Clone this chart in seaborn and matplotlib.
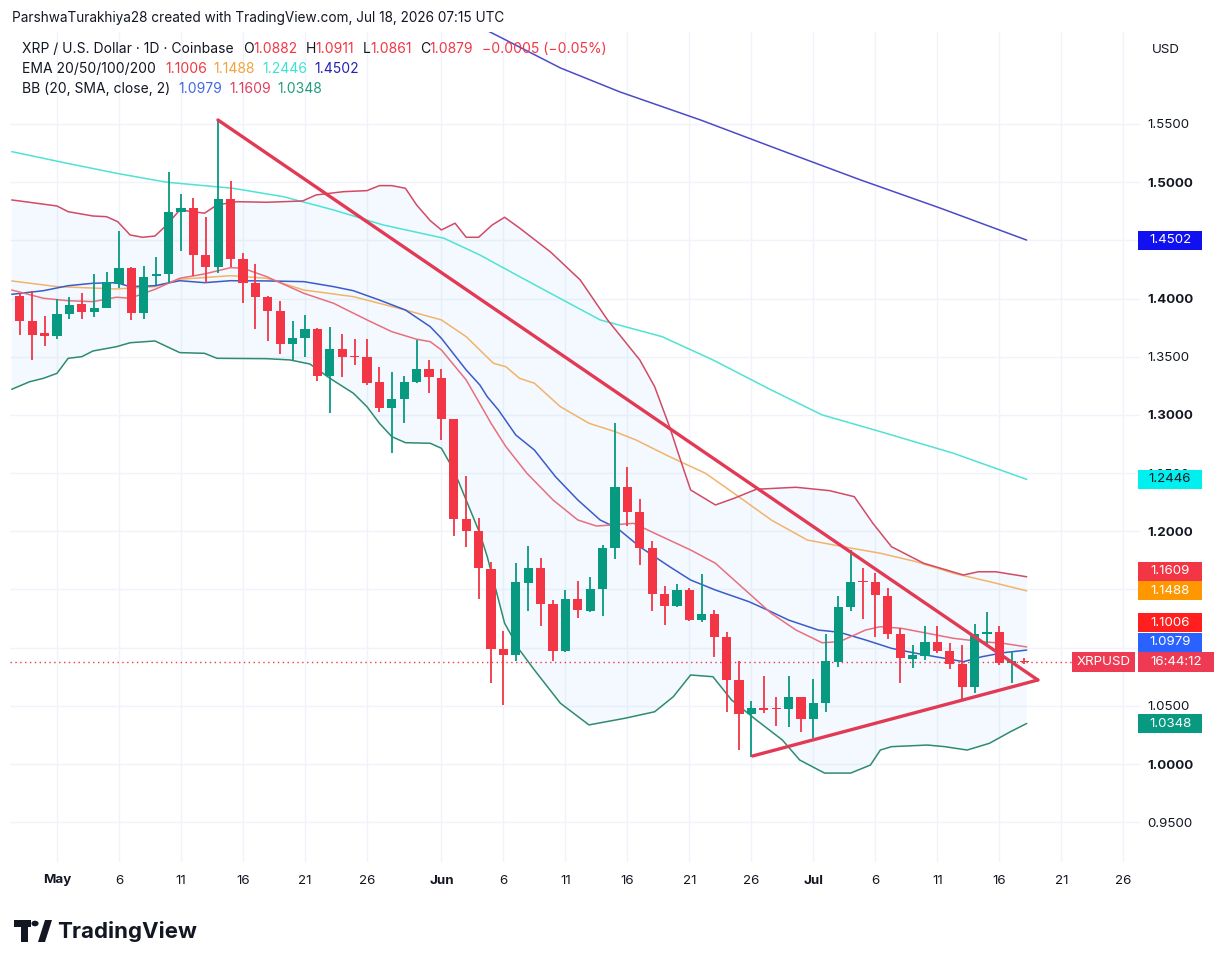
import numpy as np
import pandas as pd
import matplotlib
matplotlib.use("Agg")
import matplotlib.pyplot as plt
import matplotlib.dates as mdates
from matplotlib.patches import Rectangle, Polygon, Circle
import seaborn as sns

# ---- daily candles XRP/USD (Coinbase), Apr 28 -> Jul 18 2026
dates = pd.date_range("2026-04-28", "2026-07-18", freq="D")
opens = [1.402, 1.381, 1.370, 1.368, 1.3865, 1.395, 1.388, 1.392, 1.4126, 1.426,
         1.3874, 1.419, 1.421, 1.474, 1.4776, 1.4375, 1.4274, 1.4858, 1.434, 1.4137,
         1.4011, 1.3896, 1.361, 1.3664, 1.3736, 1.3335, 1.357, 1.3507, 1.350, 1.328,
         1.3063, 1.3138, 1.3281, 1.3395, 1.332, 1.2963, 1.2104, 1.1998, 1.1677, 1.0988,
         1.0939, 1.1554, 1.1683, 1.1374, 1.0967, 1.142, 1.1319, 1.1506, 1.186, 1.2379,
         1.2164, 1.186, 1.1457, 1.1354, 1.1491, 1.1239, 1.1288, 1.1091, 1.0724, 1.0429,
         1.0481, 1.048, 1.0475, 1.058, 1.0389, 1.0524, 1.0873, 1.1345, 1.1574, 1.1568,
         1.1445, 1.1116, 1.0905, 1.0931, 1.1048, 1.0967, 1.0859, 1.0666, 1.1116, 1.1133,
         1.0867, 1.0882]
highs = [1.405, 1.4065, 1.385, 1.400, 1.4016, 1.4045, 1.421, 1.4226, 1.458, 1.427,
         1.428, 1.436, 1.5085, 1.4896, 1.486, 1.4704, 1.554, 1.501, 1.4394, 1.4297,
         1.402, 1.398, 1.3808, 1.386, 1.3745, 1.3754, 1.3696, 1.365, 1.365, 1.3415,
         1.3367, 1.333, 1.3645, 1.3473, 1.3393, 1.2965, 1.2476, 1.2113, 1.174, 1.1147,
         1.1726, 1.1875, 1.1769, 1.1411, 1.1491, 1.1574, 1.1611, 1.1883, 1.2934, 1.2556,
         1.2276, 1.1912, 1.1526, 1.1549, 1.1512, 1.1634, 1.1325, 1.1133, 1.0887, 1.0538,
         1.0758, 1.058, 1.0758, 1.058, 1.0732, 1.1116, 1.1445, 1.1835, 1.1683, 1.164,
         1.1512, 1.1167, 1.1025, 1.1182, 1.119, 1.1039, 1.1025, 1.1205, 1.1302, 1.1188,
         1.0967, 1.0911]
lows = [1.369, 1.347, 1.359, 1.365, 1.382, 1.3825, 1.384, 1.3917, 1.4094, 1.3816,
        1.3825, 1.4117, 1.413, 1.441, 1.419, 1.413, 1.4217, 1.4274, 1.3965, 1.3736,
        1.3638, 1.3524, 1.3473, 1.350, 1.3295, 1.3015, 1.3324, 1.343, 1.3258, 1.3029,
        1.2671, 1.2934, 1.327, 1.3187, 1.2786, 1.1955, 1.1869, 1.1417, 1.0696, 1.0503,
        1.0881, 1.1319, 1.1188, 1.0881, 1.096, 1.1254, 1.1302, 1.1268, 1.1761, 1.2047,
        1.1712, 1.1311, 1.1196, 1.1348, 1.1233, 1.1216, 1.0919, 1.0445, 1.0123, 1.0063,
        1.0438, 1.0323, 1.0318, 1.0271, 1.0223, 1.0447, 1.083, 1.1311, 1.1248, 1.1091,
        1.1076, 1.0696, 1.0824, 1.0896, 1.0953, 1.0816, 1.0546, 1.0609, 1.1025, 1.0852,
        1.0696, 1.0861]
closes = [1.381, 1.369, 1.368, 1.3865, 1.3945, 1.388, 1.392, 1.414, 1.426, 1.3874,
          1.4188, 1.421, 1.474, 1.4776, 1.4375, 1.4274, 1.4858, 1.4338, 1.4137, 1.4016,
          1.3896, 1.361, 1.3664, 1.3736, 1.3335, 1.357, 1.3496, 1.3496, 1.3273, 1.3063,
          1.3138, 1.3281, 1.3395, 1.3324, 1.2963, 1.2104, 1.1998, 1.1683, 1.0988, 1.0939,
          1.156, 1.1683, 1.1374, 1.0967, 1.142, 1.1325, 1.1506, 1.186, 1.2379, 1.2164,
          1.186, 1.1463, 1.1354, 1.1491, 1.1239, 1.1288, 1.1091, 1.0724, 1.0429, 1.0481,
          1.046, 1.0475, 1.058, 1.0389, 1.0524, 1.0881, 1.1345, 1.1568, 1.1566, 1.1448,
          1.1116, 1.091, 1.0935, 1.1048, 1.0967, 1.0859, 1.0666, 1.1116, 1.1133, 1.0867,
          1.0887, 1.0879]

# ---- indicator curves (x = days after May 1)
bbu_day = [-3.65, 0, 0.9, 2.9, 4.0, 4.9, 5.9, 6.9, 7.9, 8.85, 9.9, 11.9, 12.9, 14.5, 16.9,
           19.8, 20.9, 23.1, 25.0, 26.0, 27.0, 28.1, 29.0, 30.1, 31.0, 32.1, 33.0, 34.0,
           35.1, 36.1, 37.3, 39.8, 42.2, 44.4, 47.0, 48.2, 49.4, 50.1, 51.1, 53.1, 54.6,
           56.4, 59.6, 62.3, 64.3, 65.8, 67.3, 69.9, 73.1, 74.3, 75.7, 78.2]
bbu_val = [1.4847, 1.4795, 1.4746, 1.4709, 1.4703, 1.4660, 1.4546, 1.4526, 1.4537, 1.4632,
           1.4761, 1.4733, 1.4804, 1.4832, 1.4827, 1.4838, 1.4890, 1.4918, 1.4927, 1.4970,
           1.4970, 1.4947, 1.4804, 1.4669, 1.4589, 1.4647, 1.4526, 1.4526, 1.4632, 1.4698,
           1.4606, 1.4400, 1.4159, 1.3816, 1.3472, 1.3242, 1.2899, 1.2670, 1.2355, 1.2226,
           1.2283, 1.2361, 1.2378, 1.2349, 1.2297, 1.2068, 1.1867, 1.1725, 1.1624, 1.1652,
           1.1652, 1.1609]
bbl_day = [-3.65, -2.2, -1.1, 0, 0.9, 2.0, 2.9, 4.8, 5.9, 7.9, 9.9, 11.9, 12.9, 16.9, 18.8,
           20.4, 22.0, 23.9, 25.0, 26.0, 27.0, 28.1, 30.1, 31.0, 32.0, 34.1, 34.7, 36.1,
           37.3, 38.5, 40.6, 42.9, 45.8, 48.2, 49.7, 51.1, 52.9, 54.4, 56.4, 58.5, 59.9,
           61.9, 64.0, 65.6, 66.4, 67.3, 70.2, 71.6, 73.4, 75.2, 76.9, 78.2]
bbl_val = [1.3220, 1.3285, 1.3314, 1.3357, 1.3486, 1.3500, 1.3549, 1.3586, 1.3620, 1.3635,
           1.3535, 1.3529, 1.3486, 1.3483, 1.3472, 1.3437, 1.3315, 1.3186, 1.3070, 1.2928,
           1.2813, 1.2761, 1.2756, 1.2713, 1.2526, 1.1982, 1.1781, 1.1209, 1.0980, 1.0808,
           1.0522, 1.0336, 1.0393, 1.0449, 1.0578, 1.0765, 1.0750, 1.0550, 1.0378, 1.0206,
           1.0034, 0.9922, 0.9922, 0.9991, 1.0120, 1.0149, 1.0163, 1.0149, 1.0120, 1.0178,
           1.0278, 1.0348]
bbm_day = [-3.65, -1.1, 0.9, 2.9, 4.8, 5.9, 7.9, 9.9, 11.9, 14.0, 16.9, 19.9, 22.3, 23.9,
           26.0, 28.1, 30.1, 31.0, 33.0, 34.1, 34.7, 35.6, 37.0, 38.5, 40.2, 42.0, 43.8,
           45.2, 47.0, 49.4, 51.1, 53.1, 55.8, 57.3, 59.0, 61.4, 63.1, 65.2, 67.3, 69.3,
           71.6, 73.1, 74.6, 76.3, 78.2]
bbm_val = [1.4036, 1.4067, 1.4110, 1.4131, 1.4136, 1.4102, 1.4110, 1.4153, 1.4136, 1.4153,
           1.4151, 1.4145, 1.4102, 1.4067, 1.3987, 1.3901, 1.3758, 1.3658, 1.3386, 1.3257,
           1.3156, 1.3042, 1.2827, 1.2698, 1.2469, 1.2269, 1.2097, 1.2025, 1.1867, 1.1696,
           1.1581, 1.1495, 1.1395, 1.1323, 1.1237, 1.1151, 1.1132, 1.1066, 1.0994, 1.0951,
           1.0908, 1.0879, 1.0922, 1.0956, 1.0979]
ema20_day = [-3.65, -1.1, 0.9, 2.9, 4.8, 5.9, 7.9, 9.9, 11.9, 14.0, 15.0, 16.9, 19.9, 22.3,
             25.0, 27.0, 29.0, 30.1, 31.0, 33.0, 34.7, 35.0, 36.2, 37.9, 40.0, 42.0, 43.5,
             44.7, 46.5, 48.8, 51.1, 53.1, 55.2, 57.6, 59.6, 61.7, 63.1, 65.2, 66.4, 68.1,
             70.2, 72.3, 74.6, 76.3, 78.2]
ema20_val = [1.4073, 1.4002, 1.3981, 1.3973, 1.4011, 1.4002, 1.4079, 1.4174, 1.4211, 1.4265,
             1.4260, 1.4188, 1.4045, 1.3959, 1.3816, 1.3715, 1.3650, 1.3629, 1.3558, 1.3300,
             1.2985, 1.2928, 1.2727, 1.2498, 1.2269, 1.2097, 1.2045, 1.2054, 1.2068, 1.1953,
             1.1839, 1.1725, 1.1524, 1.1295, 1.1151, 1.1042, 1.1051, 1.1151, 1.1180, 1.1166,
             1.1123, 1.1080, 1.1051, 1.1037, 1.1006]
ema50_day = [-3.65, 0, 4.8, 7.9, 9.9, 14.0, 16.9, 19.9, 23.9, 28.1, 31.0, 33.0, 35.2, 36.2,
             37.3, 38.5, 40.6, 42.9, 45.0, 46.7, 49.4, 52.3, 54.6, 57.6, 60.5, 63.4, 66.4,
             69.3, 72.3, 75.2, 78.2]
ema50_val = [1.4151, 1.4102, 1.4082, 1.4102, 1.4165, 1.4196, 1.4174, 1.4073, 1.4016, 1.3901,
             1.3816, 1.3672, 1.3443, 1.3414, 1.3314, 1.3272, 1.3070, 1.2928, 1.2856, 1.2784,
             1.2641, 1.2498, 1.2326, 1.2097, 1.1925, 1.1867, 1.1811, 1.1738, 1.1639, 1.1567,
             1.1488]
ema100_day = [-3.65, 0.8, 4.8, 8.85, 14.2, 18.25, 22.3, 26.3, 31.2, 34.1, 37.3, 43.8, 48.8,
              52.9, 57.6, 61.7, 66.4, 72.3, 78.2]
ema100_val = [1.5262, 1.5162, 1.5076, 1.4999, 1.4947, 1.4875, 1.4761, 1.4632, 1.4518, 1.4374,
              1.4188, 1.3816, 1.3672, 1.3472, 1.3214, 1.3000, 1.2856, 1.2670, 1.2446]
ema200_day = [33.3, 35.7, 40.6, 45.4, 51.9, 58.3, 64.8, 71.2, 78.2]
ema200_val = [1.6377, 1.6248, 1.5981, 1.5775, 1.5534, 1.5277, 1.5019, 1.4778, 1.4502]

# ---- hand-drawn trendlines (triangle)
upper_tl_day = [12.98, 79.1]
upper_tl_val = [1.5534, 1.0722]
lower_tl_day = [56.1, 79.1]
lower_tl_val = [1.0069, 1.0722]

price_ticks = [0.95, 1.00, 1.05, 1.10, 1.15, 1.20, 1.25, 1.30, 1.35, 1.40, 1.45, 1.50, 1.55]
# ticks hidden behind the indicator value tags on the price scale
hidden_ticks = [1.10, 1.15]
date_tick_days = [0, 5, 10, 15, 20, 25, 31, 36, 41, 46, 51, 56, 61, 66, 71, 76, 81, 86]
date_tick_labels = ["May", "6", "11", "16", "21", "26", "Jun", "6", "11", "16", "21", "26",
                    "Jul", "6", "11", "16", "21", "26"]

base = pd.Timestamp("2026-05-01")


def to_dates(days):
    return base + pd.to_timedelta(np.asarray(days, dtype=float), unit="D")


UP, DOWN, INK = "#089981", "#F23645", "#131722"
W_PX, H_PX = 1232, 965

sns.set_theme(style="white")
plt.rcParams["font.family"] = ["Inter", "DejaVu Sans"]

fig = plt.figure(figsize=(W_PX / 100, H_PX / 100), dpi=100)
fig.patch.set_facecolor("white")
# pane: x 10..1140 px, y 32..862 px
ax = fig.add_axes([10 / W_PX, (H_PX - 862) / H_PX, 1130 / W_PX, 830 / H_PX])
ax.set_facecolor("white")

# Bollinger band fill
poly_x = np.concatenate([mdates.date2num(to_dates(bbu_day)), mdates.date2num(to_dates(bbl_day))[::-1]])
poly_y = np.concatenate([bbu_val, bbl_val[::-1]])
ax.fill(poly_x, poly_y, color="#2196F3", alpha=0.05, lw=0, zorder=1)

lines = [
    (ema200_day, ema200_val, "#4B4BC8"),
    (ema100_day, ema100_val, "#4FE3D3"),
    (ema50_day, ema50_val, "#F2B36B"),
    (bbu_day, bbu_val, "#D24A63"),
    (bbl_day, bbl_val, "#2E8B6E"),
    (bbm_day, bbm_val, "#3B5BC9"),
    (ema20_day, ema20_val, "#E8707C"),
]
for d, v, c in lines:
    sns.lineplot(x=to_dates(d), y=v, ax=ax, color=c, lw=1.1, estimator=None, zorder=2)

# candles
o = np.array(opens); h = np.array(highs); l = np.array(lows); c = np.array(closes)
col = np.where(c >= o, UP, DOWN)
ax.vlines(dates, l, h, colors=col, lw=1.3, zorder=3)
body = np.maximum(np.abs(c - o), 0.0013)
ax.bar(dates, body, bottom=np.minimum(o, c) - (body - np.abs(c - o)) / 2, width=0.74,
       color=col, lw=0, zorder=4)

# triangle trendlines
ax.plot(to_dates(upper_tl_day), upper_tl_val, color="#E23A55", lw=2.4, zorder=5,
        solid_capstyle="round")
ax.plot(to_dates(lower_tl_day), lower_tl_val, color="#E23A55", lw=2.4, zorder=5,
        solid_capstyle="round")

# last price dotted line
ax.axhline(closes[-1], color=DOWN, lw=1, ls=(0, (1, 2.5)), zorder=2)

ax.set_xlim(base + pd.Timedelta(days=-3.79), base + pd.Timedelta(days=87.34))
ax.set_ylim(0.9158, 1.629)
ax.set_yticks(price_ticks)
ax.set_yticklabels(["" if any(abs(p - hp) < 1e-9 for hp in hidden_ticks) else f"{p:.4f}"
                    for p in price_ticks])
ax.yaxis.tick_right()
ax.set_xticks(to_dates(date_tick_days))
ax.set_xticklabels(date_tick_labels)
ax.tick_params(axis="y", length=0, pad=5, labelsize=9.6, labelcolor=INK)
ax.tick_params(axis="x", length=0, pad=9, labelsize=9.6, labelcolor=INK)
for t, p in zip(ax.get_yticklabels(), price_ticks):
    if abs(round(p * 10) - p * 10) < 1e-6:
        t.set_fontweight("bold")
for t, s in zip(ax.get_xticklabels(), date_tick_labels):
    if not s.isdigit():
        t.set_fontweight("bold")
ax.grid(True, color="#F0F3FA", lw=1)
ax.set_axisbelow(True)
for s in ax.spines.values():
    s.set_visible(False)
ax.set_xlabel("")
ax.set_ylabel("")

fig.canvas.draw()
renderer = fig.canvas.get_renderer()


def py(price):
    return ax.transData.transform((0, price))[1] / H_PX


def px(x):
    return x / W_PX


def fy_top(y):
    return 1 - y / H_PX


# price-scale labels, stacked upward from the live price
box_h = 19 / H_PX
gap = 19.5 / 1163.6
live = closes[-1]
stack = [(1.0979, "#2962FF", "white"), (1.1006, "#FF1F1F", "white"),
         (1.1488, "#FF9800", "white"), (1.1609, "#F23645", "white")]
pos = live
boxes = []
for v, fc, tc in stack:
    y = max(v, pos + gap)
    pos = y
    boxes.append((v, y, fc, tc))
boxes += [(1.0348, 1.0348, "#089981", "white"), (1.2446, 1.2446, "#00F0F0", "#131722"),
          (1.4502, 1.4502, "#1010F0", "white")]
for v, y, fc, tc in boxes:
    fig.add_artist(Rectangle((px(1138), py(y) - box_h / 2), px(64), box_h,
                             transform=fig.transFigure, facecolor=fc, lw=0, zorder=10))
    fig.text(px(1170), py(y), f"{v:.4f}", ha="center", va="center", color=tc,
             fontsize=9.6, zorder=11)
# live price row
fig.add_artist(Rectangle((px(1072), py(live) - 10 / H_PX), px(63), 20 / H_PX,
                         transform=fig.transFigure, facecolor="#EE3A52", lw=0, zorder=10))
fig.text(px(1103.5), py(live), "XRPUSD", ha="center", va="center", color="white",
         fontsize=9.6, zorder=11)
fig.add_artist(Rectangle((px(1138), py(live) - 10 / H_PX), px(76), 20 / H_PX,
                         transform=fig.transFigure, facecolor="#EE3A52", lw=0, zorder=10))
fig.text(px(1176), py(live), "16:44:12", ha="center", va="center", color="white",
         fontsize=9.6, zorder=11)

fig.text(px(1152), fy_top(50), "USD", ha="left", va="center", color=INK, fontsize=9.6)

# header and legend
fig.text(px(12), fy_top(18), "ParshwaTurakhiya28 created with TradingView.com, Jul 18, 2026 07:15 UTC",
         ha="left", va="center", color=INK, fontsize=9.8)


def chain(y, pieces, x0=22):
    x = px(x0)
    for s, colr, g in pieces:
        t = fig.text(x, fy_top(y), s, ha="left", va="center", color=colr, fontsize=10.0)
        bb = t.get_window_extent(renderer)
        x = bb.x1 / W_PX + px(g)


chain(49, [("XRP / U.S. Dollar · 1D · Coinbase", INK, 9), ("O", INK, 0), ("1.0882", DOWN, 8),
           ("H", INK, 0), ("1.0911", DOWN, 8), ("L", INK, 0), ("1.0861", DOWN, 8),
           ("C", INK, 0), ("1.0879", DOWN, 8), ("\u22120.0005 (\u22120.05%)", DOWN, 0)])
chain(69, [("EMA 20/50/100/200", INK, 9), ("1.1006", "#F0393F", 7), ("1.1488", "#F2A33A", 7),
           ("1.2446", "#3CE3D5", 7), ("1.4502", "#2323B5", 0)])
chain(89, [("BB (20, SMA, close, 2)", INK, 8), ("1.0979", "#4169E1", 7),
           ("1.1609", "#E0405A", 7), ("1.0348", "#1F9E7C", 0)])

# TradingView logo
logo_c = "#131722"
fig.add_artist(Rectangle((px(14), fy_top(927)), px(17), 7 / H_PX, transform=fig.transFigure,
                         facecolor=logo_c, lw=0))
fig.add_artist(Rectangle((px(21), fy_top(942)), px(7), 22 / H_PX, transform=fig.transFigure,
                         facecolor=logo_c, lw=0))
fig.add_artist(Circle((px(35), fy_top(923.5)), 3.6 / W_PX, transform=fig.transFigure,
                      facecolor=logo_c, lw=0))
fig.add_artist(Polygon([(px(38), fy_top(942)), (px(45), fy_top(942)), (px(52), fy_top(920)),
                        (px(45), fy_top(920))], closed=True, transform=fig.transFigure,
                       facecolor=logo_c, lw=0))
fig.text(px(57), fy_top(931), "TradingView", ha="left", va="center", color=logo_c,
         fontsize=16, fontweight="bold")

fig.savefig("out.png", dpi=100, facecolor="white")
